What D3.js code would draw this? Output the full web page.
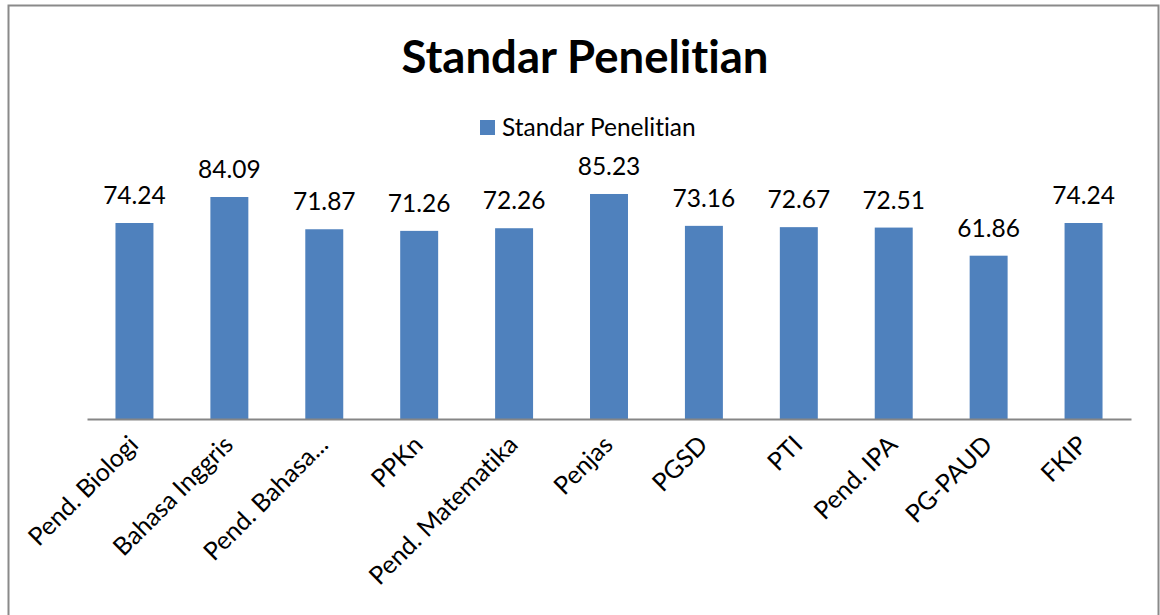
<!DOCTYPE html>
<html>
<head>
<meta charset="utf-8">
<script src="https://cdn.jsdelivr.net/npm/d3@7"></script>
<style>
  body { margin: 0; background: #fff; }
  svg { display: block; font-family: Lato, "Liberation Sans", sans-serif; font-variant-ligatures: none; }
</style>
</head>
<body>
<div id="app"></div>
<script>
const width = 1160
const height = 615

const categories = ["Pend. Biologi", "Bahasa Inggris", "Pend. Bahasa...", "PPKn", "Pend. Matematika",
    "Penjas", "PGSD", "PTI", "Pend. IPA", "PG-PAUD", "FKIP"]
const values = [74.24, 84.09, 71.87, 71.26, 72.26, 85.23, 73.16, 72.67, 72.51, 61.86, 74.24]
const seriesName = "Standar Penelitian"
const yDomain = [0, 100]

const plot = { left: 87, right: 1131, top: 155, bottom: 419 }

const svg = d3.select("#app").append("svg")
    .attr("width", width)
    .attr("height", height)

// chart border
svg.append("rect")
    .attr("x", 8.5).attr("y", 5.5)
    .attr("width", 1150).attr("height", 630)
    .attr("fill", "none")
    .attr("stroke", "#8a8a8a")
    .attr("stroke-width", 2)

const x = d3.scaleBand()
    .domain(categories)
    .range([plot.left, plot.right])
    .paddingInner(0.6)
    .paddingOuter(0.3)

const y = d3.scaleLinear()
    .domain(yDomain)
    .range([plot.bottom, plot.top])

svg.append("text")
    .attr("x", 585).attr("y", 73)
    .attr("text-anchor", "middle")
    .attr("font-size", 45.5)
    .attr("font-weight", "bold")
    .attr("fill", "#000")
    .text(seriesName)

// legend
const legend = svg.append("g").attr("transform", "translate(480,120)")
legend.append("rect").attr("width", 15).attr("height", 15).attr("fill", "#4f81bd")
legend.append("text")
    .attr("x", 22).attr("y", 16)
    .attr("font-size", 24.5)
    .text(seriesName)

svg.append("g")
    .selectAll("rect")
    .data(values)
    .join("rect")
    .attr("x", (d, i) => x(categories[i]))
    .attr("y", d => y(d))
    .attr("width", x.bandwidth())
    .attr("height", d => y(0) - y(d))
    .attr("fill", "#4f81bd")

svg.append("g")
    .selectAll("text")
    .data(values)
    .join("text")
    .attr("x", (d, i) => x(categories[i]) + x.bandwidth() / 2)
    .attr("y", d => y(d) - 19)
    .attr("text-anchor", "middle")
    .attr("font-size", 24.5)
    .text(d => d.toFixed(2))

const xAxis = g => g
    .attr("transform", `translate(0, ${plot.bottom})`)
    .call(d3.axisBottom(x).tickSize(0).tickSizeOuter(0))
    .call(g => g.select(".domain").attr("stroke", "#868686").attr("stroke-width", 2))
    .call(g => g.selectAll(".tick text")
        .attr("font-family", "Lato, 'Liberation Sans', sans-serif")
        .attr("font-size", 25)
        .attr("fill", "#000")
        .attr("text-anchor", "end")
        .attr("dy", "0.35em")
        .attr("transform", "translate(-3, 19) rotate(-45)"))

svg.append("g").call(xAxis)
</script>
</body>
</html>
